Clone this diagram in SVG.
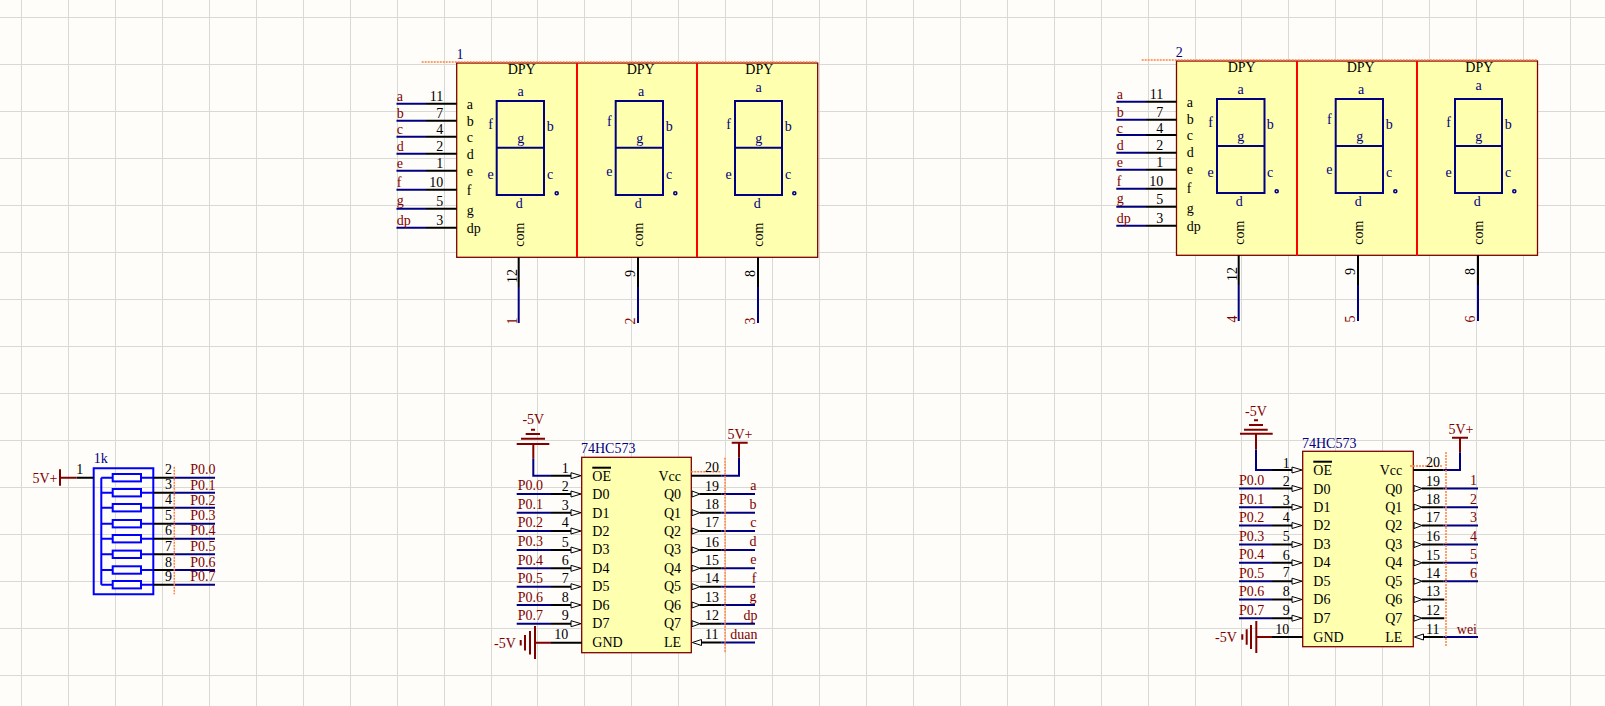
<svg xmlns="http://www.w3.org/2000/svg" width="1605" height="706" viewBox="0 0 1605 706">
<style>
text{font-family:"Liberation Serif","Times New Roman",serif;font-size:14px}
.k{fill:#000}.n{fill:#000080}.r{fill:#800000}.m{text-anchor:middle}.e{text-anchor:end}
.grid{stroke:#d9d9d5;stroke-width:1;fill:none}
.body{fill:#ffffb0;stroke:#800000;stroke-width:1.3}
.div{stroke:#ff0000;stroke-width:2;fill:none}
.seg{fill:none;stroke:#000080;stroke-width:2}
.dot{fill:#fff;stroke:#000080;stroke-width:1.6}
.pin{fill:none;stroke:#000;stroke-width:2}
.wire{fill:none;stroke:#000080;stroke-width:2}
.pwr{fill:none;stroke:#800000;stroke-width:2}
.res{fill:none;stroke:#0000ff;stroke-width:2}
.tri{fill:#fff;stroke:#000;stroke-width:1}
.hint{fill:none;stroke:#ff8040;stroke-width:1.5;stroke-dasharray:2 1}
</style>
<rect width="1605" height="706" fill="#fffdf9"/>
<path class="grid" d="M21.5 0V706M68.5 0V706M115.5 0V706M162.5 0V706M209.5 0V706M256.5 0V706M303.5 0V706M350.5 0V706M397.5 0V706M444.5 0V706M491.5 0V706M537.5 0V706M584.5 0V706M631.5 0V706M678.5 0V706M725.5 0V706M772.5 0V706M819.5 0V706M866.5 0V706M913.5 0V706M960.5 0V706M1007.5 0V706M1054.5 0V706M1101.5 0V706M1148.5 0V706M1195.5 0V706M1241.5 0V706M1288.5 0V706M1335.5 0V706M1382.5 0V706M1429.5 0V706M1476.5 0V706M1523.5 0V706M1570.5 0V706M0 17.5H1605M0 64.5H1605M0 111.5H1605M0 158.5H1605M0 205.5H1605M0 252.5H1605M0 299.5H1605M0 346.5H1605M0 393.5H1605M0 440.5H1605M0 487.5H1605M0 534.5H1605M0 581.5H1605M0 628.5H1605M0 675.5H1605"/>

<g id="connectors">
<g id="net-display1">
<path class="wire" d="M396.5 103.7H426M396.5 120.7H426M396.5 136.7H426M396.5 153.7H426M396.5 170.7H426M396.5 189.7H426M396.5 208.7H426M396.5 227.7H426M518.7 287V323M638 287V323M758 287V323"/>
<text class="r" x="396.7" y="101">a</text><text class="r" x="396.7" y="117.5">b</text><text class="r" x="396.7" y="134">c</text><text class="r" x="396.7" y="151">d</text><text class="r" x="396.7" y="168">e</text><text class="r" x="396.7" y="186.7">f</text><text class="r" x="396.7" y="205">g</text><text class="r" x="396.7" y="225">dp</text>
<text class="r" transform="rotate(-90 516.7 324.5)" x="516.7" y="324.5">1</text><text class="r" transform="rotate(-90 635 324.5)" x="635" y="324.5">2</text><text class="r" transform="rotate(-90 755.3 324.5)" x="755.3" y="324.5">3</text>
</g>
<g id="net-display2">
<path class="wire" d="M1116.3 101.7H1146M1116.3 119.7H1146M1116.3 135H1146M1116.3 152.7H1146M1116.3 169.7H1146M1116.3 188.7H1146M1116.3 206.7H1146M1116.3 225.7H1146M1238.7 285V321M1358 285V321M1478 285V321"/>
<text class="r" x="1116.7" y="99">a</text><text class="r" x="1116.7" y="116.5">b</text><text class="r" x="1116.7" y="132.5">c</text><text class="r" x="1116.7" y="150">d</text><text class="r" x="1116.7" y="167">e</text><text class="r" x="1116.7" y="185.7">f</text><text class="r" x="1116.7" y="203">g</text><text class="r" x="1116.7" y="223">dp</text>
<text class="r" transform="rotate(-90 1236.7 322.5)" x="1236.7" y="322.5">4</text><text class="r" transform="rotate(-90 1355 322.5)" x="1355" y="322.5">5</text><text class="r" transform="rotate(-90 1475.3 322.5)" x="1475.3" y="322.5">6</text>
</g>
<g id="net-rpack">
<path class="wire" d="M173 477.7H215M173 492.7H215M173 507.7H215M173 523.7H215M173 538.7H215M173 554.3H215M173 570H215M173 584.7H215"/>
<text class="r" x="190.3" y="474.3">P0.0</text><text class="r" x="190.3" y="489.7">P0.1</text><text class="r" x="190.3" y="504.7">P0.2</text><text class="r" x="190.3" y="520.3">P0.3</text><text class="r" x="190.3" y="535.3">P0.4</text><text class="r" x="190.3" y="550.7">P0.5</text><text class="r" x="190.3" y="566.7">P0.6</text><text class="r" x="190.3" y="581">P0.7</text>
</g>
<g id="net-ic1">
<path class="wire" d="M533.3 458.3V475.7H551M516.7 494H551M516.7 512.7H551M516.7 531H551M516.7 550H551M516.7 568.3H551M516.7 586.7H551M516.7 605H551M516.7 623.7H551M721.7 475.7H739V457.7M721.7 494H755M721.7 512.7H755M721.7 531H755M721.7 550H755M721.7 568.3H755M721.7 586.7H755M721.7 605H755M721.7 623.7H755M721.7 642.5H755"/>
<text class="r" x="517.7" y="490.3">P0.0</text><text class="r" x="517.7" y="509">P0.1</text><text class="r" x="517.7" y="527.3">P0.2</text><text class="r" x="517.7" y="546">P0.3</text><text class="r" x="517.7" y="564.5">P0.4</text><text class="r" x="517.7" y="583.3">P0.5</text><text class="r" x="517.7" y="601.7">P0.6</text><text class="r" x="517.7" y="620">P0.7</text>
<text class="r e" x="756.5" y="490">a</text><text class="r e" x="756.5" y="509">b</text><text class="r e" x="756.5" y="527">c</text><text class="r e" x="756.5" y="546">d</text><text class="r e" x="756.5" y="564">e</text><text class="r e" x="756.5" y="583">f</text><text class="r e" x="756.5" y="601">g</text><text class="r e" x="757.5" y="620">dp</text><text class="r e" x="757.5" y="639">duan</text>
</g>
<g id="net-ic2" transform="translate(721,-5.5)">
<path class="wire" d="M535 455V475.5H551M518 494H551M518 512.7H551M518 531H551M518 550H551M518 568.3H551M518 586.7H551M518 605H551M518 623.7H551M722.3 475.5H739V457.7M722.3 494H757M722.3 512.7H757M722.3 531H757M722.3 550H757M722.3 568.3H757M722.3 586.7H757M722.3 642.5H757"/>
<text class="r" x="518" y="490.3">P0.0</text><text class="r" x="518" y="509">P0.1</text><text class="r" x="518" y="527.3">P0.2</text><text class="r" x="518" y="546">P0.3</text><text class="r" x="518" y="564.5">P0.4</text><text class="r" x="518" y="583.3">P0.5</text><text class="r" x="518" y="601.7">P0.6</text><text class="r" x="518" y="620">P0.7</text>
<text class="r e" x="756" y="490">1</text><text class="r e" x="756" y="509">2</text><text class="r e" x="756" y="527">3</text><text class="r e" x="756" y="546">4</text><text class="r e" x="756" y="564">5</text><text class="r e" x="756" y="583">6</text><text class="r e" x="756" y="639">wei</text>
</g>
</g>

<g id="display1">
<rect class="body" x="456.7" y="63" width="361" height="194.3"/>
<path class="hint" d="M421.7 62H817"/>
<path class="div" d="M577 63V257.3M697 63V257.3"/>
<path class="seg" d="M496.7 101H544V195H496.7ZM496.7 147.7H544M615.7 101H663V195H615.7ZM615.7 147.7H663M735 101H782V195H735ZM735 147.7H782"/>
<circle class="dot" cx="556.7" cy="193.3" r="1.5"/><circle class="dot" cx="675.3" cy="193.3" r="1.5"/><circle class="dot" cx="794.3" cy="193.3" r="1.5"/>
<path class="pin" d="M426 103.7H456.7M426 120.7H456.7M426 136.7H456.7M426 153.7H456.7M426 170.7H456.7M426 189.7H456.7M426 208.7H456.7M426 227.7H456.7M518.7 257.3V287M638 257.3V287M758 257.3V287"/>
<text class="n m" x="460" y="59">1</text>
<text class="k m" x="521.7" y="73.7">DPY</text><text class="k m" x="640.7" y="73.7">DPY</text><text class="k m" x="759.3" y="73.7">DPY</text>
<text class="k" x="466.7" y="109">a</text><text class="k" x="466.7" y="126">b</text><text class="k" x="466.7" y="142">c</text><text class="k" x="466.7" y="159.3">d</text><text class="k" x="466.7" y="176.3">e</text><text class="k" x="466.7" y="195">f</text><text class="k" x="466.7" y="215">g</text><text class="k" x="466.7" y="232.7">dp</text>
<text class="k e" x="443.3" y="101.3">11</text><text class="k e" x="443.3" y="118.3">7</text><text class="k e" x="443.3" y="133.7">4</text><text class="k e" x="443.3" y="151.3">2</text><text class="k e" x="443.3" y="168.3">1</text><text class="k e" x="443.3" y="187.3">10</text><text class="k e" x="443.3" y="206">5</text><text class="k e" x="443.3" y="225">3</text>
<text class="n m" x="520.7" y="95.7">a</text><text class="n m" x="490.7" y="129.3">f</text><text class="n m" x="550.3" y="131">b</text><text class="n m" x="520.7" y="142.7">g</text><text class="n m" x="490.7" y="179.3">e</text><text class="n m" x="550" y="179.3">c</text><text class="n m" x="519.3" y="207.7">d</text>
<text class="n m" x="641" y="95.7">a</text><text class="n m" x="609.3" y="125.7">f</text><text class="n m" x="669.3" y="131">b</text><text class="n m" x="639.7" y="142.7">g</text><text class="n m" x="609.3" y="176">e</text><text class="n m" x="669" y="179.3">c</text><text class="n m" x="638.3" y="207.7">d</text>
<text class="n m" x="758.7" y="91.7">a</text><text class="n m" x="728.7" y="129.3">f</text><text class="n m" x="788.3" y="131">b</text><text class="n m" x="758.7" y="142.7">g</text><text class="n m" x="728.7" y="179.3">e</text><text class="n m" x="788" y="179.3">c</text><text class="n m" x="757.3" y="207.7">d</text>
<text class="k m" transform="rotate(-90 524 234.7)" x="524" y="234.7">com</text><text class="k m" transform="rotate(-90 642.7 234.7)" x="642.7" y="234.7">com</text><text class="k m" transform="rotate(-90 763.3 234.7)" x="763.3" y="234.7">com</text>
<text class="k m" transform="rotate(-90 516.7 276)" x="516.7" y="276">12</text><text class="k m" transform="rotate(-90 635 273.5)" x="635" y="273.5">9</text><text class="k m" transform="rotate(-90 755.3 273.5)" x="755.3" y="273.5">8</text>
</g>

<g id="display2">
<rect class="body" x="1176.5" y="61" width="361" height="194.3"/>
<path class="hint" d="M1141.7 60H1537"/>
<path class="div" d="M1297 61V256M1417 61V256"/>
<path class="seg" d="M1217 99H1264.5V193H1217ZM1217 146H1264.5M1335.7 99H1383V193H1335.7ZM1335.7 146H1383M1455 99H1502V193H1455ZM1455 146H1502"/>
<circle class="dot" cx="1276.7" cy="191.3" r="1.5"/><circle class="dot" cx="1395.3" cy="191.3" r="1.5"/><circle class="dot" cx="1514.3" cy="191.3" r="1.5"/>
<path class="pin" d="M1146 101.7H1176.5M1146 119.7H1176.5M1146 135H1176.5M1146 152.7H1176.5M1146 169.7H1176.5M1146 188.7H1176.5M1146 206.7H1176.5M1146 225.7H1176.5M1238.7 255.3V285M1358 255.3V285M1478 255.3V285"/>
<text class="n m" x="1179.3" y="57.3">2</text>
<text class="k m" x="1241.7" y="71.7">DPY</text><text class="k m" x="1360.7" y="71.7">DPY</text><text class="k m" x="1479.3" y="71.7">DPY</text>
<text class="k" x="1186.7" y="107">a</text><text class="k" x="1186.7" y="124">b</text><text class="k" x="1186.7" y="140">c</text><text class="k" x="1186.7" y="157.3">d</text><text class="k" x="1186.7" y="174.3">e</text><text class="k" x="1186.7" y="193">f</text><text class="k" x="1186.7" y="213">g</text><text class="k" x="1186.7" y="230.7">dp</text>
<text class="k e" x="1163.3" y="99.3">11</text><text class="k e" x="1163.3" y="117.3">7</text><text class="k e" x="1163.3" y="132.7">4</text><text class="k e" x="1163.3" y="150.3">2</text><text class="k e" x="1163.3" y="167.3">1</text><text class="k e" x="1163.3" y="186.3">10</text><text class="k e" x="1163.3" y="204">5</text><text class="k e" x="1163.3" y="223">3</text>
<text class="n m" x="1240.7" y="93.7">a</text><text class="n m" x="1210.7" y="127.3">f</text><text class="n m" x="1270.3" y="129">b</text><text class="n m" x="1240.7" y="140.7">g</text><text class="n m" x="1210.7" y="177.3">e</text><text class="n m" x="1270" y="177.3">c</text><text class="n m" x="1239.3" y="205.7">d</text>
<text class="n m" x="1361" y="93.7">a</text><text class="n m" x="1329.3" y="123.7">f</text><text class="n m" x="1389.3" y="129">b</text><text class="n m" x="1359.7" y="140.7">g</text><text class="n m" x="1329.3" y="174">e</text><text class="n m" x="1389" y="177.3">c</text><text class="n m" x="1358.3" y="205.7">d</text>
<text class="n m" x="1478.7" y="89.7">a</text><text class="n m" x="1448.7" y="127.3">f</text><text class="n m" x="1508.3" y="129">b</text><text class="n m" x="1478.7" y="140.7">g</text><text class="n m" x="1448.7" y="177.3">e</text><text class="n m" x="1508" y="177.3">c</text><text class="n m" x="1477.3" y="205.7">d</text>
<text class="k m" transform="rotate(-90 1244 232.7)" x="1244" y="232.7">com</text><text class="k m" transform="rotate(-90 1362.7 232.7)" x="1362.7" y="232.7">com</text><text class="k m" transform="rotate(-90 1483.3 232.7)" x="1483.3" y="232.7">com</text>
<text class="k m" transform="rotate(-90 1236.7 274)" x="1236.7" y="274">12</text><text class="k m" transform="rotate(-90 1355 271.5)" x="1355" y="271.5">9</text><text class="k m" transform="rotate(-90 1475.3 271.5)" x="1475.3" y="271.5">8</text>
</g>

<g id="rpack">
<path class="res" d="M93.7 468.3H153.3V594.3H93.7ZM101.3 477.7V584.7M101.3 477.7H153.3M101.3 492.7H153.3M101.3 507.7H153.3M101.3 523.7H153.3M101.3 538.7H153.3M101.3 554.3H153.3M101.3 570H153.3M101.3 584.7H153.3"/>
<g fill="#fffdf9" stroke="#0000ff" stroke-width="2"><rect x="112.7" y="474" width="28.3" height="7.4"/><rect x="112.7" y="489" width="28.3" height="7.4"/><rect x="112.7" y="504" width="28.3" height="7.4"/><rect x="112.7" y="520" width="28.3" height="7.4"/><rect x="112.7" y="535" width="28.3" height="7.4"/><rect x="112.7" y="550.6" width="28.3" height="7.4"/><rect x="112.7" y="566.3" width="28.3" height="7.4"/><rect x="112.7" y="581" width="28.3" height="7.4"/></g>
<path class="pin" d="M76.7 477.7H93.7M153.3 477.7H173M153.3 492.7H173M153.3 507.7H173M153.3 523.7H173M153.3 538.7H173M153.3 554.3H173M153.3 570H173M153.3 584.7H173"/>
<path class="hint" d="M174.3 466.7V594.3"/>
<text class="n" x="93.7" y="463.3">1k</text>
<text class="k m" x="79.7" y="474.3">1</text>
<text class="k e" x="172" y="474.3">2</text><text class="k e" x="172" y="489.3">3</text><text class="k e" x="172" y="504.3">4</text><text class="k e" x="172" y="520">5</text><text class="k e" x="172" y="535">6</text><text class="k e" x="172" y="550.7">7</text><text class="k e" x="172" y="566.7">8</text><text class="k e" x="172" y="581">9</text>
</g>
<g id="port-5v-rpack">
<path class="pwr" d="M60 469.3V485.7M60 477.7H76.7"/>
<text class="r" x="32.5" y="482.7">5V+</text>
</g>

<g id="ic1">
<rect class="body" x="581.7" y="457.3" width="109.6" height="195.4"/>
<path class="hint" d="M691.3 471.7H721M725 457.7V653"/>
<path class="pin" d="M551 475.7H571M551 494H571M551 512.7H571M551 531H571M551 550H571M551 568.3H571M551 586.7H571M551 605H571M551 623.7H571M551 642.7H581.7M691.3 475.7H721.7M700 494H721.7M700 512.7H721.7M700 531H721.7M700 550H721.7M700 568.3H721.7M700 586.7H721.7M700 605H721.7M700 623.7H721.7M701 642.5H721.7"/>
<path class="tri" d="M571 472.7L581 475.7L571 478.7ZM571 491L581 494L571 497ZM571 509.7L581 512.7L571 515.7ZM571 528L581 531L571 534ZM571 547L581 550L571 553ZM571 565.3L581 568.3L571 571.3ZM571 583.7L581 586.7L571 589.7ZM571 602L581 605L571 608ZM571 620.7L581 623.7L571 626.7ZM692 491L700 494L692 497ZM692 509.7L700 512.7L692 515.7ZM692 528L700 531L692 534ZM692 547L700 550L692 553ZM692 565.3L700 568.3L692 571.3ZM692 583.7L700 586.7L692 589.7ZM692 602L700 605L692 608ZM692 620.7L700 623.7L692 626.7ZM701.5 639.5L692.3 642.5L701.5 645.5Z"/>
<path class="pin" d="M592.3 467.7H611"/>
<text class="n" x="581" y="453.3">74HC573</text>
<text class="k" x="592.3" y="480.7">OE</text><text class="k" x="592.3" y="499">D0</text><text class="k" x="592.3" y="517.7">D1</text><text class="k" x="592.3" y="535.7">D2</text><text class="k" x="592.3" y="554.3">D3</text><text class="k" x="592.3" y="572.7">D4</text><text class="k" x="592.3" y="591.3">D5</text><text class="k" x="592.3" y="609.7">D6</text><text class="k" x="592.3" y="628.3">D7</text><text class="k" x="592.3" y="647.3">GND</text>
<text class="k e" x="681" y="480.7">Vcc</text><text class="k e" x="681" y="499">Q0</text><text class="k e" x="681" y="517.7">Q1</text><text class="k e" x="681" y="535.7">Q2</text><text class="k e" x="681" y="554.3">Q3</text><text class="k e" x="681" y="572.7">Q4</text><text class="k e" x="681" y="591.3">Q5</text><text class="k e" x="681" y="609.7">Q6</text><text class="k e" x="681" y="628.3">Q7</text><text class="k e" x="681" y="647.3">LE</text>
<text class="k e" x="568.7" y="473">1</text><text class="k e" x="568.7" y="491">2</text><text class="k e" x="568.7" y="510">3</text><text class="k e" x="568.7" y="527.3">4</text><text class="k e" x="568.7" y="546.7">5</text><text class="k e" x="568.7" y="565">6</text><text class="k e" x="568.7" y="582.7">7</text><text class="k e" x="568.7" y="601.7">8</text><text class="k e" x="568.7" y="620">9</text><text class="k e" x="568.3" y="639.3">10</text>
<text class="k" x="705" y="472">20</text><text class="k" x="705" y="491">19</text><text class="k" x="705" y="509">18</text><text class="k" x="705" y="527.3">17</text><text class="k" x="705" y="546.7">16</text><text class="k" x="705" y="565">15</text><text class="k" x="705" y="583.3">14</text><text class="k" x="705" y="601.7">13</text><text class="k" x="705" y="620">12</text><text class="k" x="705" y="639.3">11</text>
</g>
<g id="port-n5v-ic1-top">
<path class="pwr" d="M533.3 444V458.3M516.7 444H549.3M521 438.7H545M525.7 434H540M531 429.7H535"/>
<text class="r m" x="533.3" y="424.3">-5V</text>
</g>
<g id="port-5v-ic1">
<path class="pwr" d="M739 442.7V457.7M731.7 442.7H747.7"/>
<text class="r m" x="740" y="439.3">5V+</text>
</g>
<g id="port-n5v-ic1-gnd">
<path class="pwr" d="M535 626V659M530 631V654.5M525 635V650.5M520.7 640V645.5M535 642.7H551"/>
<text class="r" x="494" y="647.7">-5V</text>
</g>

<g id="ic2" transform="translate(721,-5.5)">
<rect class="body" x="581.7" y="456.8" width="110.6" height="195.4"/>
<path class="hint" d="M689 471.5H722M725 457.5V652"/>
<path class="pin" d="M551 475.5H571M551 494H571M551 512.7H571M551 531H571M551 550H571M551 568.3H571M551 586.7H571M551 605H571M551 623.7H571M551 642.5H581.7M692.3 475.5H722.3M701 494H722.3M701 512.7H722.3M701 531H722.3M701 550H722.3M701 568.3H722.3M701 586.7H722.3M701 605H723.3M701 623.7H723.3M702 642.5H722.3"/>
<path class="tri" d="M571 472.5L581 475.5L571 478.5ZM571 491L581 494L571 497ZM571 509.7L581 512.7L571 515.7ZM571 528L581 531L571 534ZM571 547L581 550L571 553ZM571 565.3L581 568.3L571 571.3ZM571 583.7L581 586.7L571 589.7ZM571 602L581 605L571 608ZM571 620.7L581 623.7L571 626.7ZM693 491L701 494L693 497ZM693 509.7L701 512.7L693 515.7ZM693 528L701 531L693 534ZM693 547L701 550L693 553ZM693 565.3L701 568.3L693 571.3ZM693 583.7L701 586.7L693 589.7ZM693 602L701 605L693 608ZM693 620.7L701 623.7L693 626.7ZM702.5 639.5L693.3 642.5L702.5 645.5Z"/>
<path class="pin" d="M592.3 467.2H611"/>
<text class="n" x="581" y="453.5">74HC573</text>
<text class="k" x="592.3" y="480.5">OE</text><text class="k" x="592.3" y="499">D0</text><text class="k" x="592.3" y="517.7">D1</text><text class="k" x="592.3" y="535.7">D2</text><text class="k" x="592.3" y="554.3">D3</text><text class="k" x="592.3" y="572.7">D4</text><text class="k" x="592.3" y="591.3">D5</text><text class="k" x="592.3" y="609.7">D6</text><text class="k" x="592.3" y="628.3">D7</text><text class="k" x="592.3" y="647.3">GND</text>
<text class="k e" x="681.3" y="480.5">Vcc</text><text class="k e" x="681.3" y="499">Q0</text><text class="k e" x="681.3" y="517.7">Q1</text><text class="k e" x="681.3" y="535.7">Q2</text><text class="k e" x="681.3" y="554.3">Q3</text><text class="k e" x="681.3" y="572.7">Q4</text><text class="k e" x="681.3" y="591.3">Q5</text><text class="k e" x="681.3" y="609.7">Q6</text><text class="k e" x="681.3" y="628.3">Q7</text><text class="k e" x="681.3" y="647.3">LE</text>
<text class="k e" x="568.7" y="473">1</text><text class="k e" x="568.7" y="491">2</text><text class="k e" x="568.7" y="510">3</text><text class="k e" x="568.7" y="527.3">4</text><text class="k e" x="568.7" y="546.7">5</text><text class="k e" x="568.7" y="565">6</text><text class="k e" x="568.7" y="582.7">7</text><text class="k e" x="568.7" y="601.7">8</text><text class="k e" x="568.7" y="620">9</text><text class="k e" x="568.3" y="639.3">10</text>
<text class="k" x="705" y="472">20</text><text class="k" x="705" y="491">19</text><text class="k" x="705" y="509">18</text><text class="k" x="705" y="527.3">17</text><text class="k" x="705" y="546.7">16</text><text class="k" x="705" y="565">15</text><text class="k" x="705" y="583.3">14</text><text class="k" x="705" y="601.7">13</text><text class="k" x="705" y="620">12</text><text class="k" x="705" y="639.3">11</text>
</g>
<g id="port-n5v-ic2-top">
<path class="pwr" d="M1256 433.7V449.5M1240 433.7H1272.7M1244 429.7H1267.7M1249 425H1263M1254 420.3H1258"/>
<text class="r m" x="1256" y="416">-5V</text>
</g>
<g id="port-5v-ic2">
<path class="pwr" d="M1460 437.7V452.2M1452 437.7H1468"/>
<text class="r m" x="1461" y="434.3">5V+</text>
</g>
<g id="port-n5v-ic2-gnd">
<path class="pwr" d="M1256.3 621V653M1251 625V649M1246.7 629.3V644.7M1242.3 634.3V639.7M1256.3 637H1272"/>
<text class="r" x="1215" y="642.2">-5V</text>
</g>
</svg>
